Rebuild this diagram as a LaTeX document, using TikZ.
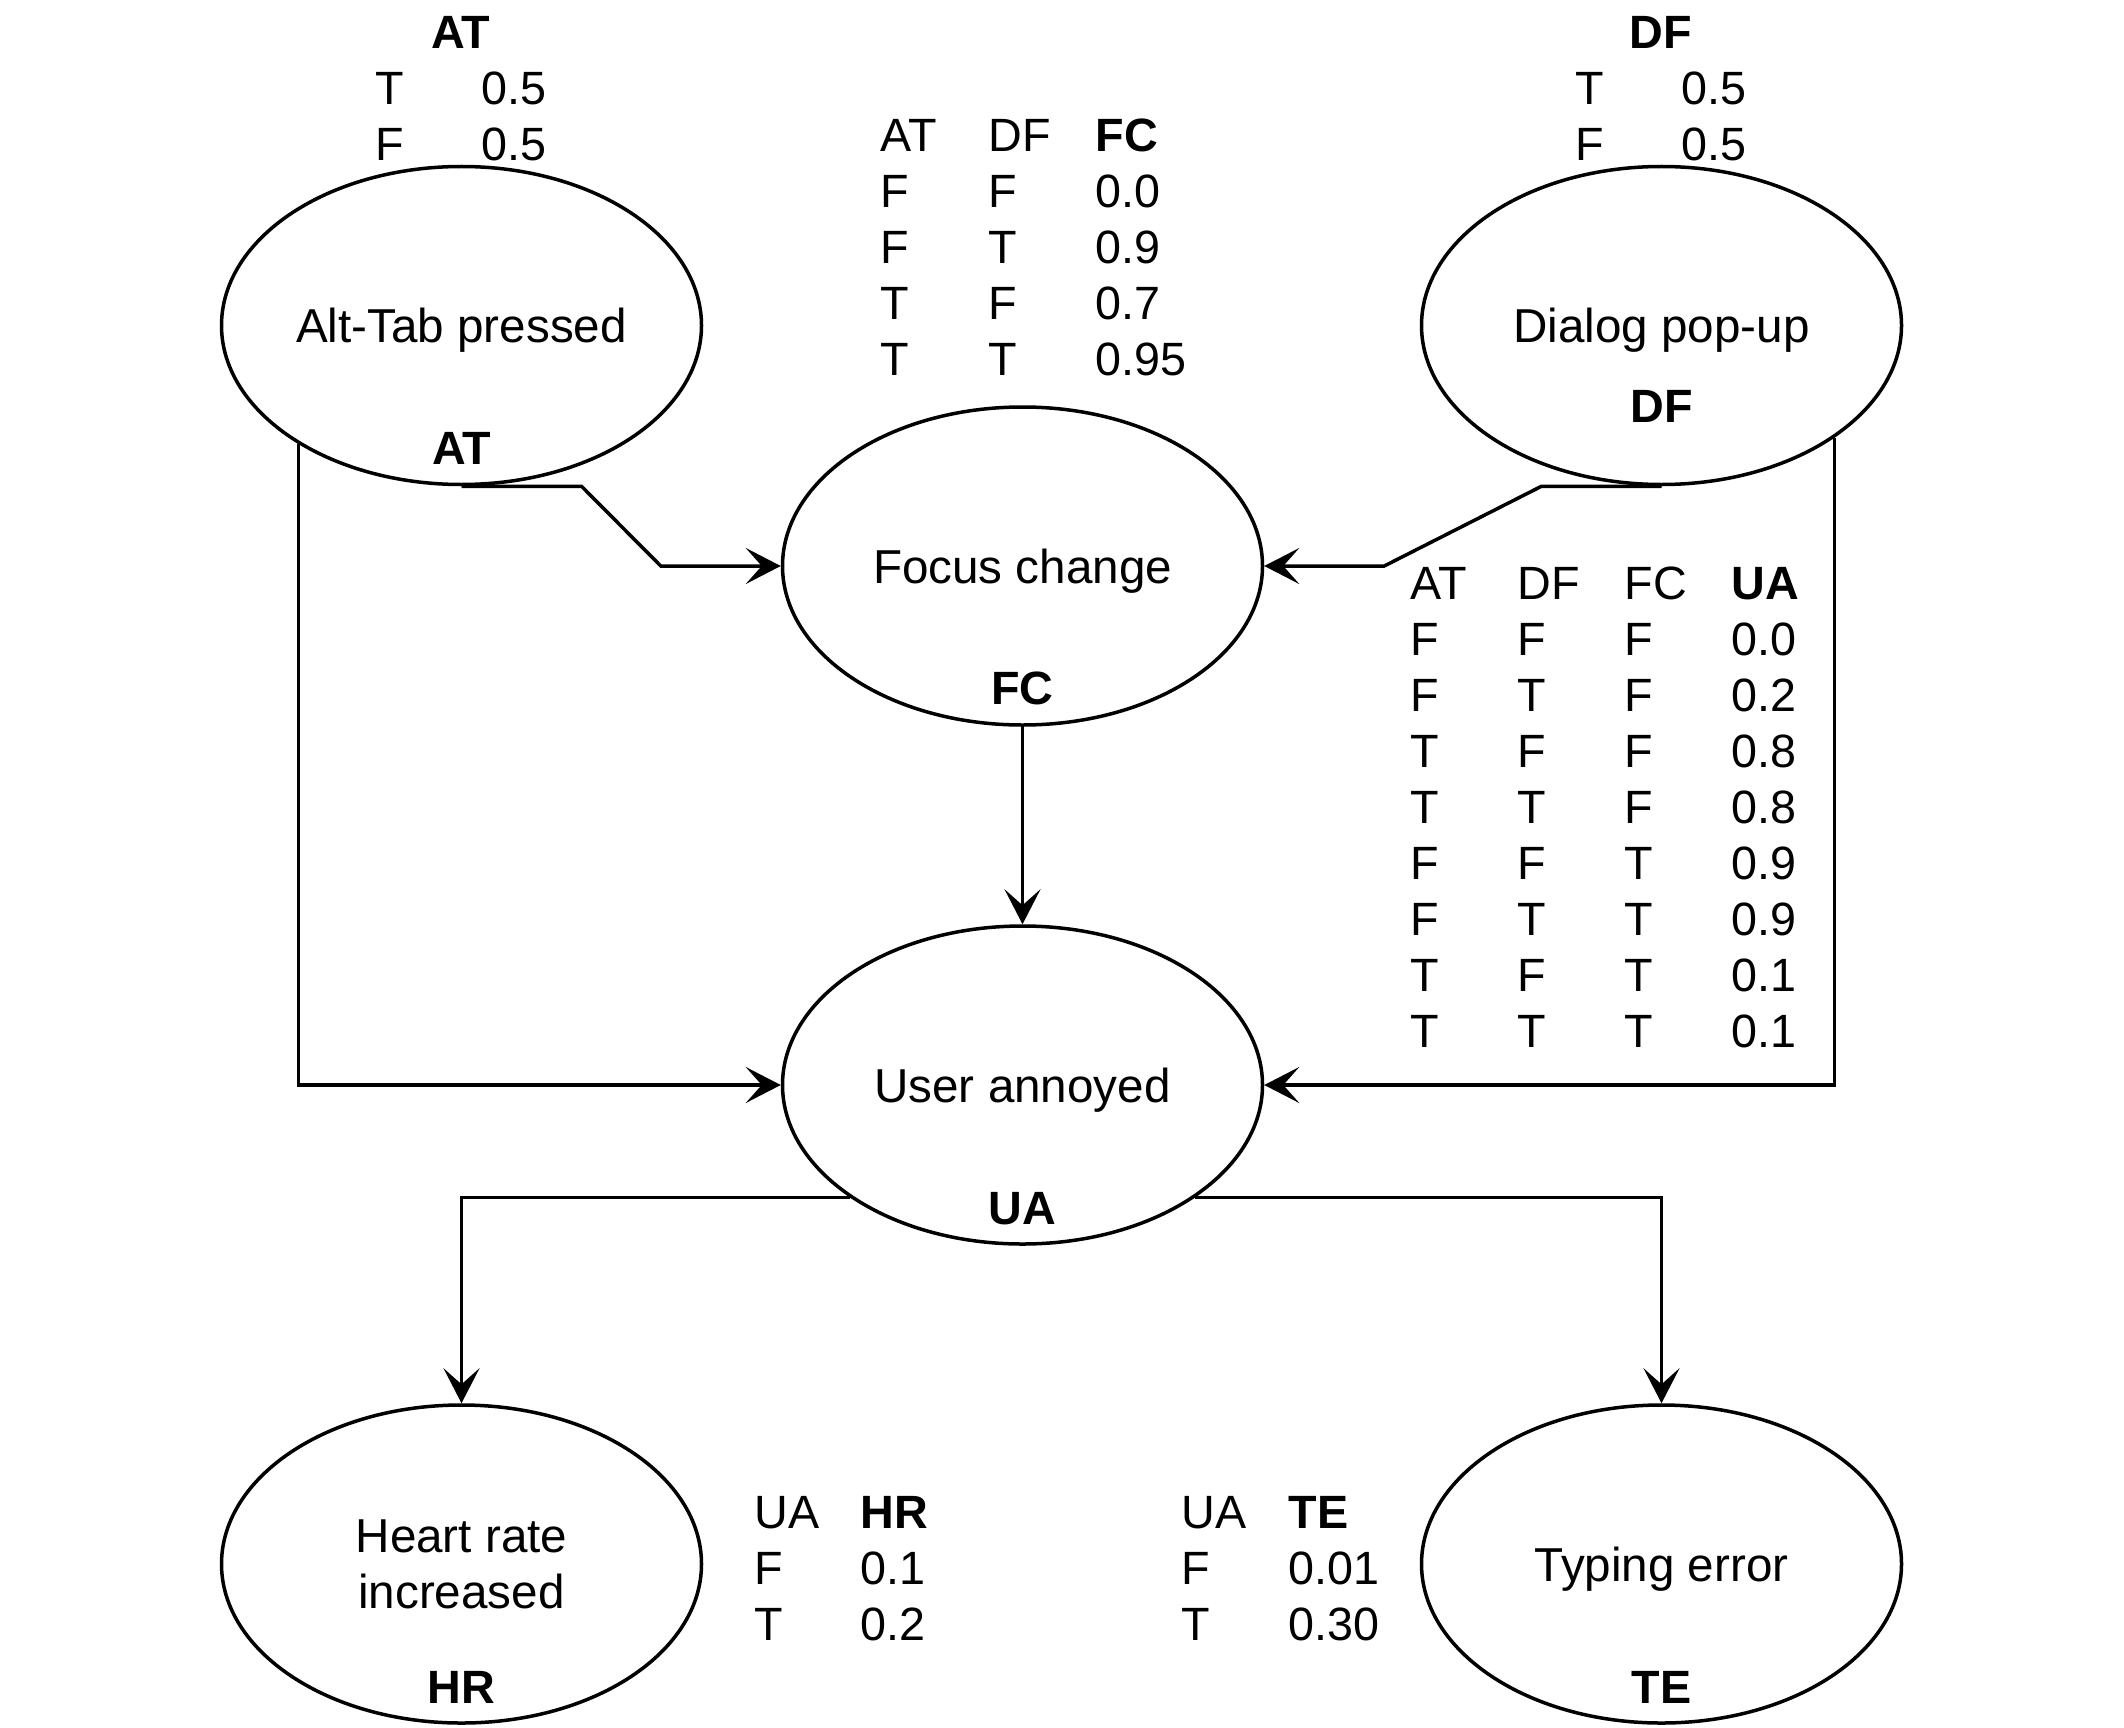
\documentclass[tikz,border=0pt]{standalone}
\usepackage{fontspec}
\setmainfont{Liberation Sans}
\usetikzlibrary{arrows.meta}
\usetikzlibrary{shapes}

\newcommand{\bnfont}{\fontsize{46.7}{56}\selectfont}
\newcommand{\bnlgfont}{\fontsize{47.6}{56}\selectfont}

\tikzset{
  bnode/.style={ellipse, draw, line width=3.5pt, minimum width=480pt, minimum height=318pt, inner sep=0pt, text depth=0pt, align=center, font=\bnlgfont},
  vlabel/.style={font=\bnfont\bfseries, inner sep=0pt, text depth=0pt},
  cpt/.style={anchor=north west, inner sep=0pt},
  conn/.style={line width=3.5pt, -{Stealth[length=35pt, width=36pt, inset=16pt]}}
}

\begin{document}
\begin{tikzpicture}[x=1pt,y=1pt,yscale=-1,xscale=1,font=\bnfont]
\useasboundingbox (0,0) rectangle (2124,1728);

%Shape: Ellipse
\node [bnode] (at) at (461.5,325.5) {Alt-Tab pressed};
%Shape: Ellipse
\node [bnode] (df) at (1661.5,325.5) {Dialog pop-up};
%Shape: Ellipse
\node [bnode] (fc) at (1022.5,566) {Focus change};
%Shape: Ellipse
\node [bnode] (ua) at (1022.5,1085) {User annoyed};
%Shape: Ellipse
\node [bnode] (hr) at (461.5,1564) {Heart rate\\increased};
%Shape: Ellipse
\node [bnode] (te) at (1661.5,1564) {Typing error};

% Variable Labels
\node [vlabel] (atv) at ([yshift=123pt]at.center) {AT};
\node [vlabel] (dfv) at ([yshift=81pt]df.center) {DF};
\node [vlabel] (fcv) at ([yshift=122pt]fc.center) {FC};
\node [vlabel] (uav) at ([yshift=123pt]ua.center) {UA};
\node [vlabel] (hrv) at ([yshift=123pt]hr.center) {HR};
\node [vlabel] (tev) at ([yshift=123pt]te.center) {TE};

%Straight Lines
\draw [conn] (at.south) -- ([xshift=120pt]at.south) -- ([xshift=-120pt]fc.west) -- (fc.west);
%Straight Lines
\draw [conn] (df.south) -- ([xshift=-120pt]df.south) -- ([xshift=120pt]fc.east) -- (fc.east);
%Straight Lines
\draw [conn] (at.216.7) |- (ua.west);
%Straight Lines
\draw [conn] (df.-33.6) |- (ua.east);
%Straight Lines
\draw [conn] (fc.south) -- (ua.north);
%Straight Lines
\draw [conn] (ua.213.9) -| (hr.north);
%Straight Lines
\draw [conn] (ua.-33.9) -| (te.north);

% Text Node
\node [cpt] (atcpt) at (375,9) {\begin{tabular}{@{}p{106pt}@{}l@{}}
\multicolumn{2}{@{}c@{}}{\textbf{AT}}\\
T & 0.5\\
F & 0.5
\end{tabular}};
% Text Node
\node [cpt] (dfcpt) at (1575,9) {\begin{tabular}{@{}p{106pt}@{}l@{}}
\multicolumn{2}{@{}c@{}}{\textbf{DF}}\\
T & 0.5\\
F & 0.5
\end{tabular}};
% Text Node
\node [cpt] (fccpt) at (880.7,112.5) {\begin{tabular}{@{}p{107.5pt}@{}p{107.5pt}@{}l@{}}
AT & DF & \textbf{FC}\\
F & F & 0.0\\
F & T & 0.9\\
T & F & 0.7\\
T & T & 0.95
\end{tabular}};
% Text Node
\node [cpt] (uacpt) at (1410.7,560.5) {\begin{tabular}{@{}p{107pt}@{}p{107pt}@{}p{107pt}@{}l@{}}
AT & DF & FC & \textbf{UA}\\
F & F & F & 0.0\\
F & T & F & 0.2\\
T & F & F & 0.8\\
T & T & F & 0.8\\
F & F & T & 0.9\\
F & T & T & 0.9\\
T & F & T & 0.1\\
T & T & T & 0.1
\end{tabular}};
% Text Node
\node [cpt] (hrcpt) at (754.6,1489) {\begin{tabular}{@{}p{106pt}@{}l@{}}
UA & \textbf{HR}\\
F & 0.1\\
T & 0.2
\end{tabular}};
% Text Node
\node [cpt] (tecpt) at (1181.6,1489) {\begin{tabular}{@{}p{107pt}@{}l@{}}
UA & \textbf{TE}\\
F & 0.01\\
T & 0.30
\end{tabular}};

\end{tikzpicture}
\end{document}
